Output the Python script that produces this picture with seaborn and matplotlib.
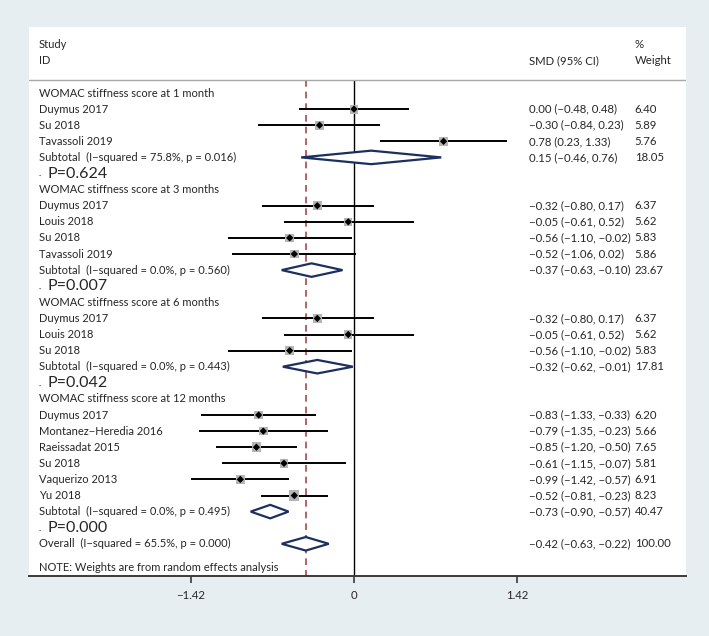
import numpy as np
import pandas as pd
import matplotlib
matplotlib.use("Agg")
import matplotlib.pyplot as plt
import matplotlib.transforms as mtransforms
import seaborn as sns

# forest plot data
groups = ["WOMAC stiffness score at 1 month", "WOMAC stiffness score at 3 months",
          "WOMAC stiffness score at 6 months", "WOMAC stiffness score at 12 months"]
study = ["Duymus 2017", "Su 2018", "Tavassoli 2019",
         "Duymus 2017", "Louis 2018", "Su 2018", "Tavassoli 2019",
         "Duymus 2017", "Louis 2018", "Su 2018",
         "Duymus 2017", "Montanez\u2212Heredia 2016", "Raeissadat 2015", "Su 2018",
         "Vaquerizo 2013", "Yu 2018"]
study_group = [0, 0, 0, 1, 1, 1, 1, 2, 2, 2, 3, 3, 3, 3, 3, 3]
smd = [0.00, -0.30, 0.78, -0.32, -0.05, -0.56, -0.52, -0.32, -0.05, -0.56,
       -0.83, -0.79, -0.85, -0.61, -0.99, -0.52]
lo = [-0.48, -0.84, 0.23, -0.80, -0.61, -1.10, -1.06, -0.80, -0.61, -1.10,
      -1.33, -1.35, -1.20, -1.15, -1.42, -0.81]
hi = [0.48, 0.23, 1.33, 0.17, 0.52, -0.02, 0.02, 0.17, 0.52, -0.02,
      -0.33, -0.23, -0.50, -0.07, -0.57, -0.23]
weight = [6.40, 5.89, 5.76, 6.37, 5.62, 5.83, 5.86, 6.37, 5.62, 5.83,
          6.20, 5.66, 7.65, 5.81, 6.91, 8.23]

sub_i2 = [75.8, 0.0, 0.0, 0.0]
sub_phet = [0.016, 0.560, 0.443, 0.495]
sub_smd = [0.15, -0.37, -0.32, -0.73]
sub_lo = [-0.46, -0.63, -0.62, -0.90]
sub_hi = [0.76, -0.10, -0.01, -0.57]
sub_w = [18.05, 23.67, 17.81, 40.47]
p_effect = ["0.624", "0.007", "0.042", "0.000"]

overall_smd, overall_lo, overall_hi = -0.42, -0.63, -0.22
overall_i2, overall_p, overall_w = 65.5, 0.000, 100.00

xticks = [-1.42, 0, 1.42]

sns.set_theme(style="white")
plt.rcParams['font.family'] = ['Lato', 'DejaVu Sans']

bg = "#e7eef1"
navy = "#1c305f"
maroon = "#a5484a"
fs = 8.0      # labels
fn = 8.2      # number columns

def m(v):
    return ("%.2f" % v).replace("-", "\u2212")

fig = plt.figure(figsize=(7.09, 6.36), dpi=100, facecolor=bg)
ax = fig.add_axes([29/709, 1-576/636, 657/709, 549/636])
ax.set_facecolor("white")
ax.set_xlim(-2.831, 2.892)
ax.set_ylim(30.0, -4.10)
tr = mtransforms.blended_transform_factory(ax.transAxes, ax.transData)

x_lab, x_smd, x_w = 0.0152, 0.761, 0.922

# build rows
df_rows = []
sub_rows = []
y = 0
for g in range(len(groups)):
    ax.text(x_lab, y, groups[g], transform=tr, va="center", fontsize=fs)
    y += 1
    for i in range(len(study)):
        if study_group[i] != g:
            continue
        df_rows.append(dict(y=y, smd=smd[i], lo=lo[i], hi=hi[i], w=weight[i]))
        ax.text(x_lab, y, study[i], transform=tr, va="center", fontsize=fs)
        ax.text(x_smd, y, "%s (%s, %s)" % (m(smd[i]), m(lo[i]), m(hi[i])),
                transform=tr, va="center", fontsize=fn)
        ax.text(x_w, y, "%.2f" % weight[i], transform=tr, va="center", fontsize=fn)
        y += 1
    sub_rows.append((y, sub_smd[g], sub_lo[g], sub_hi[g]))
    ax.text(x_lab, y, "Subtotal  (I\u2212squared = %.1f%%, p = %.3f)" % (sub_i2[g], sub_phet[g]),
            transform=tr, va="center", fontsize=fs)
    ax.text(x_smd, y, "%s (%s, %s)" % (m(sub_smd[g]), m(sub_lo[g]), m(sub_hi[g])),
            transform=tr, va="center", fontsize=fn)
    ax.text(x_w, y, "%.2f" % sub_w[g], transform=tr, va="center", fontsize=fn)
    y += 1
    ax.text(0.0167, y + 0.2, "\u00b7", transform=tr, va="center", ha="center", fontsize=6)
    ax.text(0.0274, y, "P=" + p_effect[g], transform=tr, va="center", fontsize=11.5)
    y += 1

sub_rows.append((y, overall_smd, overall_lo, overall_hi))
ax.text(x_lab, y, "Overall  (I\u2212squared = %.1f%%, p = %.3f)" % (overall_i2, overall_p),
        transform=tr, va="center", fontsize=fs)
ax.text(x_smd, y, "%s (%s, %s)" % (m(overall_smd), m(overall_lo), m(overall_hi)),
        transform=tr, va="center", fontsize=fn)
ax.text(x_w, y, "%.2f" % overall_w, transform=tr, va="center", fontsize=fn)
ax.text(x_lab, y + 1.5, "NOTE: Weights are from random effects analysis",
        transform=tr, va="center", fontsize=fs)

# header
ax.text(x_lab, -3.04, "Study", transform=tr, va="center", fontsize=fs)
ax.text(x_lab, -1.99, "ID", transform=tr, va="center", fontsize=fs)
ax.text(x_smd, -1.99, "SMD (95% CI)", transform=tr, va="center", fontsize=fn)
ax.text(x_w, -3.04, "%", transform=tr, va="center", fontsize=fn)
ax.text(x_w, -1.99, "Weight", transform=tr, va="center", fontsize=fn)
ax.axhline(-0.81, color="#a8a8a8", lw=1.0)

# reference lines
ax.vlines(0, -0.81, 30.0, color="black", lw=1.0, zorder=1)
ax.vlines(overall_smd, -0.81, 30.0, color=maroon, lw=1.2, linestyles=(0, (4, 3)), zorder=1)

d = pd.DataFrame(df_rows)
ax.hlines(d["y"], d["lo"], d["hi"], color="black", lw=1.4, zorder=2)
sns.scatterplot(data=d, x="smd", y="y", size="w", sizes=(5.62 * 6.5, 8.23 * 6.5),
                marker="s", color="#b5b5b5", edgecolor="none", legend=False, ax=ax, zorder=3)
sns.scatterplot(data=d, x="smd", y="y", marker="D", s=14, color="black",
                edgecolor="none", legend=False, ax=ax, zorder=4)

for (yy, c, l, h) in sub_rows:
    ax.fill([l, c, h, c, l], [yy, yy - 0.42, yy, yy + 0.42, yy],
            facecolor="white", edgecolor=navy, lw=1.6, zorder=3)

for s in ["top", "left", "right"]:
    ax.spines[s].set_visible(False)
ax.spines["bottom"].set_color("#3a3a3a")
ax.spines["bottom"].set_linewidth(1.4)
ax.set_yticks([])
ax.set_xticks(xticks)
ax.set_xticklabels([m(v) if v != 0 else "0" for v in xticks])
ax.tick_params(axis="x", direction="out", length=5, width=1.2, color="#3a3a3a",
               labelsize=fn, pad=5, bottom=True)
ax.set_xlabel("")
ax.set_ylabel("")

fig.savefig("out.png", dpi=100, facecolor=bg)
